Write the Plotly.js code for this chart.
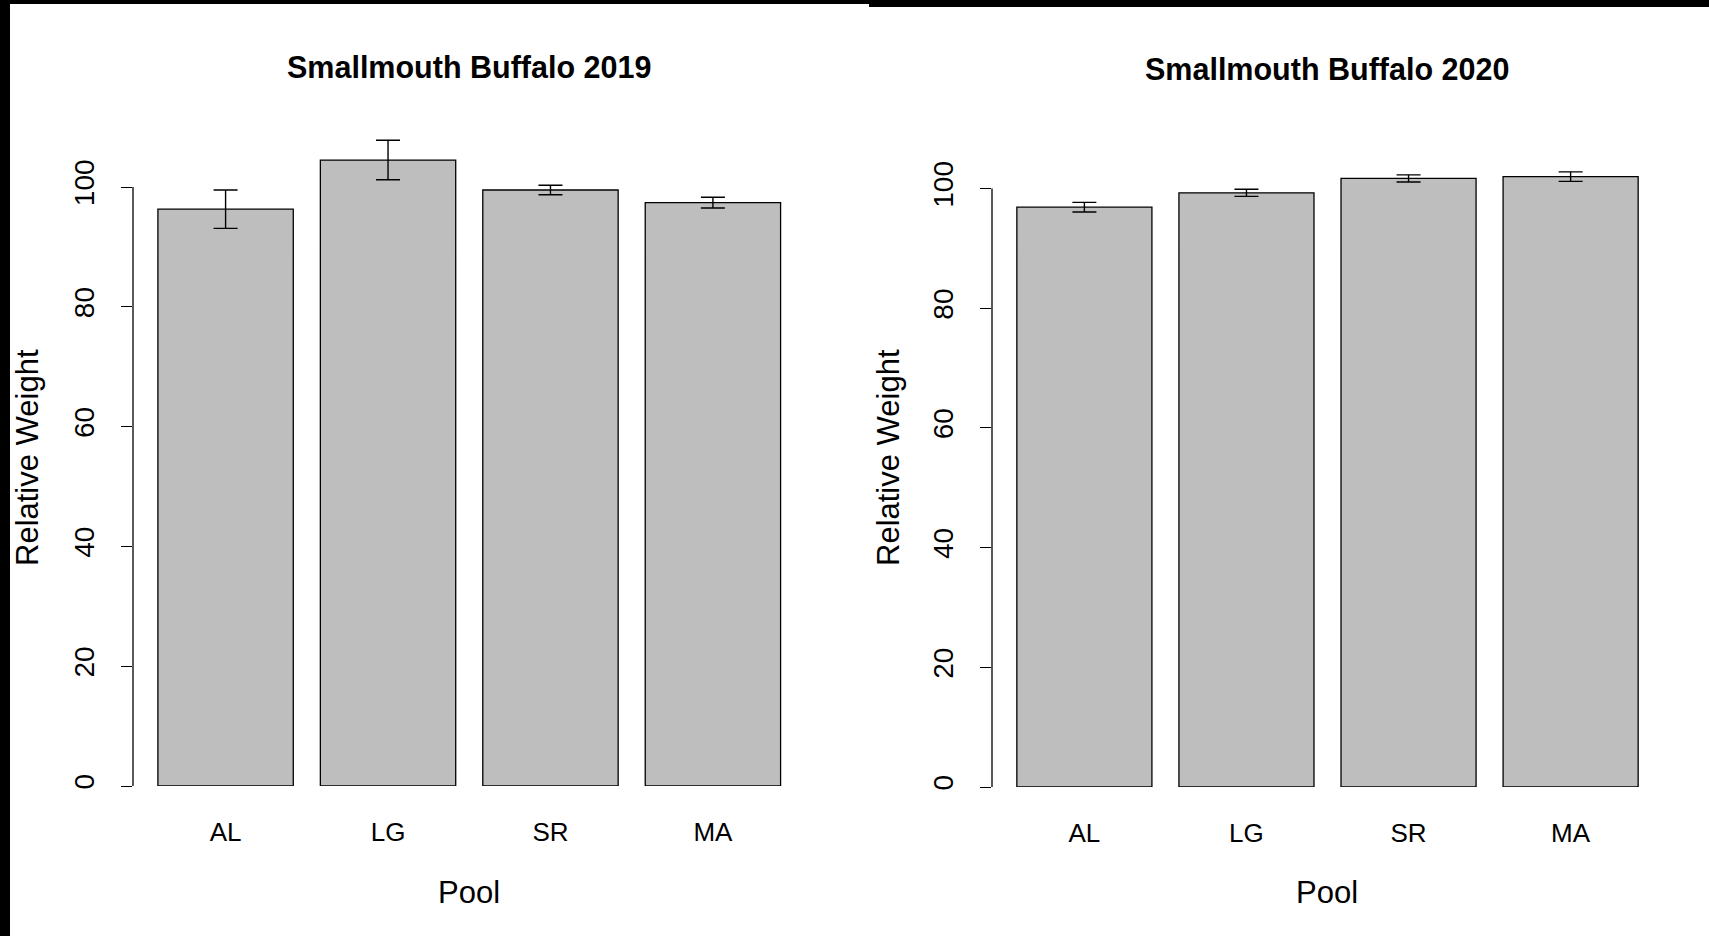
<!DOCTYPE html>
<html>
<head>
<meta charset="utf-8">
<script src="https://cdn.plot.ly/plotly-3.0.1.min.js"></script>
<style>html,body{margin:0;padding:0;background:#fff;}#chart{width:1709px;height:936px;}</style>
</head>
<body>
<div id="chart"></div>
<script>
// Data
const pools = ["AL", "LG", "SR", "MA"];
const titles = ["Smallmouth Buffalo 2019", "Smallmouth Buffalo 2020"];
const mean2019 = [96.3, 104.5, 99.5, 97.4];
const se2019 = [3.2, 3.3, 0.8, 0.9];
const mean2020 = [96.9, 99.3, 101.7, 102.0];
const se2020 = [0.8, 0.6, 0.6, 0.8];
const yTicks = [0, 20, 40, 60, 80, 100];
const xTitle = "Pool";
const yTitle = "Relative Weight";

const W = 1709, H = 936;
const FONT = "Liberation Sans, Arial, sans-serif";

function barTrace(means, ses, xa, ya) {
  return {
    type: "bar", x: pools, y: means, xaxis: xa, yaxis: ya,
    marker: {color: "#bebebe", line: {color: "#000", width: 1.3}},
    error_y: {type: "data", array: ses, visible: true, color: "#000", thickness: 1.4, width: 12},
    hoverinfo: "x+y", showlegend: false
  };
}

const data = [
  barTrace(mean2019, se2019, "x", "y"),
  barTrace(mean2020, se2020, "x2", "y2")
];

function px(x) { return x / W; }
function py(y) { return 1 - y / H; }

const yaxisBase = {
  range: [0, 110], fixedrange: true, showgrid: false, zeroline: false, showline: false,
  tickmode: "array", tickvals: yTicks, ticktext: yTicks.map(String),
  ticks: "outside", ticklen: 11, tickwidth: 1.3, tickcolor: "#000",
  tickangle: -90, tickfont: {family: FONT, size: 28, color: "#000"},
  ticklabelstandoff: 16
};
const xaxisBase = {
  range: [-0.57, 3.57], fixedrange: true, showgrid: false, zeroline: false, showline: false,
  ticks: "", tickfont: {family: FONT, size: 26, color: "#000"}, ticklabelstandoff: 28
};

const layout = {
  width: W, height: H,
  margin: {l: 0, r: 0, t: 0, b: 0},
  paper_bgcolor: "#fff", plot_bgcolor: "#fff",
  bargap: 1/6,
  xaxis: Object.assign({}, xaxisBase, {domain: [px(133), px(805.5)], anchor: "y"}),
  yaxis: Object.assign({}, yaxisBase, {domain: [py(786), py(786 - 110*5.99)], anchor: "x"}),
  xaxis2: Object.assign({}, xaxisBase, {domain: [px(992), px(1663)], anchor: "y2"}),
  yaxis2: Object.assign({}, yaxisBase, {domain: [py(787), py(787 - 110*5.984)], anchor: "x2"}),
  annotations: [
    {text: "<b>" + titles[0] + "</b>", xref: "paper", yref: "paper", x: px(469), y: py(67), showarrow: false, xanchor: "center", yanchor: "middle", font: {family: FONT, size: 30.5, color: "#000"}},
    {text: "<b>" + titles[1] + "</b>", xref: "paper", yref: "paper", x: px(1327), y: py(69), showarrow: false, xanchor: "center", yanchor: "middle", font: {family: FONT, size: 30.5, color: "#000"}},
    {text: xTitle, xref: "paper", yref: "paper", x: px(469), y: py(892), showarrow: false, xanchor: "center", yanchor: "middle", font: {family: FONT, size: 31, color: "#000"}},
    {text: xTitle, xref: "paper", yref: "paper", x: px(1327), y: py(892), showarrow: false, xanchor: "center", yanchor: "middle", font: {family: FONT, size: 31, color: "#000"}},
    {text: yTitle, xref: "paper", yref: "paper", x: px(27), y: py(458), showarrow: false, textangle: -90, xanchor: "center", yanchor: "middle", font: {family: FONT, size: 31, color: "#000"}},
    {text: yTitle, xref: "paper", yref: "paper", x: px(888), y: py(458), showarrow: false, textangle: -90, xanchor: "center", yanchor: "middle", font: {family: FONT, size: 31, color: "#000"}}
  ],
  shapes: [
    {type: "line", xref: "x domain", yref: "y", x0: 0, x1: 0, y0: 0, y1: 100, line: {color: "#000", width: 1.3}},
    {type: "line", xref: "x2 domain", yref: "y2", x0: 0, x1: 0, y0: 0, y1: 100, line: {color: "#000", width: 1.3}},
    {type: "rect", xref: "paper", yref: "paper", x0: 0, x1: px(10), y0: 0, y1: 1, fillcolor: "#000", line: {width: 0}, layer: "above"},
    {type: "rect", xref: "paper", yref: "paper", x0: 0, x1: px(869), y0: py(4), y1: 1, fillcolor: "#000", line: {width: 0}, layer: "above"},
    {type: "rect", xref: "paper", yref: "paper", x0: px(869), x1: 1, y0: py(7), y1: 1, fillcolor: "#000", line: {width: 0}, layer: "above"}
  ]
};

Plotly.newPlot("chart", data, layout, {displayModeBar: false, staticPlot: false});
</script>
</body>
</html>
